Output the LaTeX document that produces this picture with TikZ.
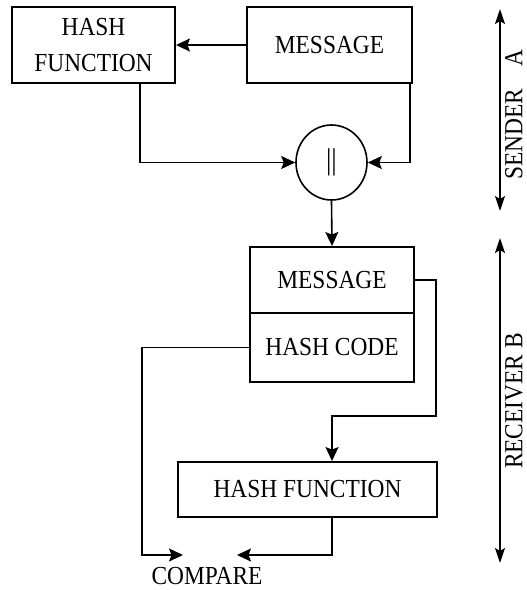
\documentclass[tikz,border=0pt]{standalone}
\usepackage{fontspec}
\setmainfont[FakeStretch=0.9]{Liberation Serif}
\usetikzlibrary{arrows.meta,shapes.geometric}
\begin{document}
\begin{tikzpicture}[x=1pt,y=-1pt,
  font=\fontsize{26}{36}\selectfont,
  box/.style={draw,line width=1.9pt,inner sep=0pt,align=center},
  conn/.style={line width=1.6pt,-{Stealth[length=14pt,width=13pt,inset=2.5pt]}},
  span/.style={line width=1.7pt,{Stealth[length=15pt,width=10pt,inset=3pt]}-{Stealth[length=15pt,width=10pt,inset=3pt]}},
  side/.style={rotate=90,inner sep=0pt}]
\useasboundingbox (0,0) rectangle (527,590);
\fill[white] (0,0) rectangle (527,590);

% sender side
\node[box,minimum width=163pt,minimum height=76pt] (hf1) at (93.5,45) {HASH\\FUNCTION};
\node[box,minimum width=165pt,minimum height=76pt] (msg1) at (329.5,45) {MESSAGE};
\node[draw,ellipse,line width=1.6pt,minimum width=71pt,minimum height=75pt,inner sep=0pt,
      font=\fontsize{30}{30}\selectfont] (cat) at (331.5,162.5) {||};

% receiver side
\node[box,minimum width=164pt,minimum height=66pt] (msg2) at (332,280) {MESSAGE};
\node[box,minimum width=164pt,minimum height=69pt] (code) at (332,347.5) {HASH CODE};
\node[box,minimum width=259pt,minimum height=55pt] (hf2) at (307.5,489.5) {HASH FUNCTION};
\node[inner sep=0pt] (cmp) at (207,576) {COMPARE};

% connectors
\draw[conn] (msg1.west) -- (hf1.east);
\draw[conn] ([xshift=46.5pt]hf1.south) |- (cat.west);
\draw[conn] ([xshift=-3pt]msg1.south east) |- (cat.east);
\draw[conn] (cat.south) -- (msg2.north);

\coordinate (turn) at (436,416);
\draw[conn] (msg2.east) -| (turn) -| (msg2.south |- hf2.north);

\coordinate (loopL) at (142,555);
\coordinate (inL) at (183,555);
\coordinate (inR) at (237,555);
\draw[conn] (code.west) -| (loopL) -- (inL);
\draw[conn] (msg2.south |- hf2.south) |- (inR);

% extent markers
\coordinate (sTop) at (500,9);
\coordinate (sBot) at (500,211);
\draw[span] (sTop) -- (sBot);
\node[side] (sLab) at (514,115) {SENDER\hspace{22pt}A};

\coordinate (rTop) at (500,238);
\coordinate (rBot) at (500,563);
\draw[span] (rTop) -- (rBot);
\node[side] (rLab) at (514,401) {RECEIVER B};
\end{tikzpicture}
\end{document}
